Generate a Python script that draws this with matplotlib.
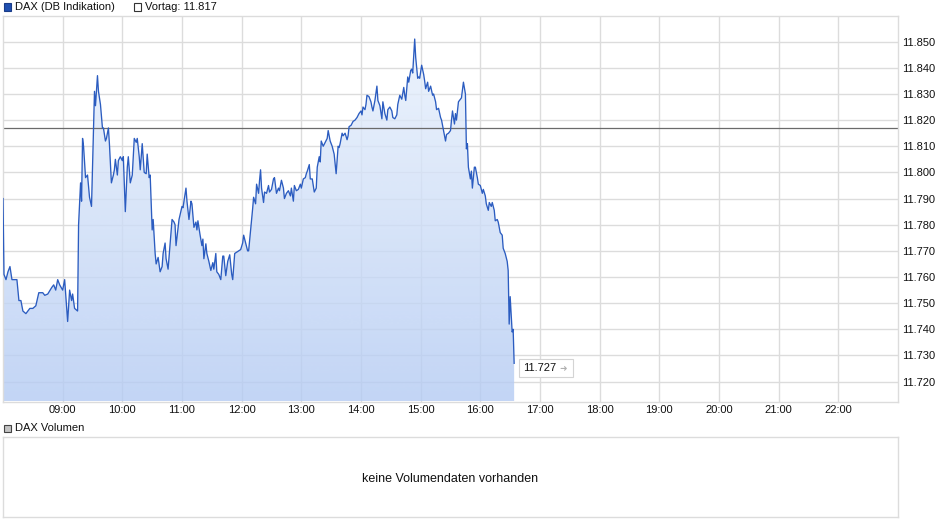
import numpy as np
import matplotlib
matplotlib.use("Agg")
import matplotlib.pyplot as plt
from matplotlib.patches import Rectangle, Polygon

plt.rcParams['font.family'] = ['Liberation Sans', 'DejaVu Sans']

# ---------------- data ----------------
times = [
    "08:00", "08:01", "08:03", "08:05", "08:07", "08:09", "08:12", "08:14", "08:16", "08:18",
    "08:20", "08:23", "08:27", "08:30", "08:33", "08:36", "08:40", "08:42", "08:45", "08:49",
    "08:51", "08:53", "08:55", "08:57",
    "09:00", "09:02", "09:05", "09:07", "09:09", "09:10", "09:12", "09:15", "09:16", "09:18",
    "09:19", "09:20", "09:21", "09:23", "09:25", "09:27", "09:29", "09:31", "09:32", "09:33",
    "09:35", "09:36", "09:38", "09:40", "09:41", "09:43", "09:44", "09:46", "09:47", "09:49",
    "09:51", "09:52", "09:53", "09:55", "09:56", "09:58",
    "10:00", "10:01", "10:03", "10:05", "10:06", "10:08", "10:10", "10:12", "10:14", "10:15",
    "10:17", "10:18", "10:20", "10:22", "10:24", "10:25", "10:27", "10:28", "10:30", "10:31",
    "10:33", "10:34", "10:36", "10:38", "10:40", "10:41", "10:43", "10:44", "10:46", "10:48",
    "10:50", "10:52", "10:53", "10:54", "10:57",
    "11:00", "11:01", "11:04", "11:05", "11:07", "11:09", "11:10", "11:12", "11:14", "11:15",
    "11:16", "11:18", "11:20", "11:21", "11:22", "11:24", "11:25", "11:27", "11:29", "11:31",
    "11:32", "11:34", "11:35", "11:37", "11:39", "11:41", "11:42", "11:44", "11:46", "11:48",
    "11:50", "11:51", "11:53", "11:55", "11:57", "11:59",
    "12:01", "12:02", "12:04", "12:06", "12:07", "12:09", "12:11", "12:12", "12:14", "12:15",
    "12:17", "12:18", "12:19", "12:20", "12:22", "12:23", "12:25", "12:27", "12:28", "12:30",
    "12:32", "12:33", "12:35", "12:37", "12:38", "12:40", "12:42", "12:43", "12:45", "12:47",
    "12:49", "12:50", "12:52", "12:53", "12:55", "12:57", "12:59",
    "13:00", "13:02", "13:04", "13:05", "13:06", "13:08", "13:09", "13:11", "13:13", "13:15",
    "13:16", "13:18", "13:19", "13:20", "13:22", "13:24", "13:26", "13:27", "13:29", "13:31",
    "13:33", "13:35", "13:37", "13:38", "13:39", "13:41", "13:42", "13:44", "13:46", "13:47",
    "13:48", "13:50", "13:52", "13:54", "13:56", "13:58",
    "14:00", "14:01", "14:02", "14:04", "14:05", "14:06", "14:08", "14:10", "14:11", "14:12",
    "14:14", "14:16", "14:17", "14:19", "14:21", "14:22", "14:24", "14:26", "14:27", "14:29",
    "14:31", "14:32", "14:34", "14:36", "14:37", "14:39", "14:41", "14:43", "14:44", "14:45",
    "14:47", "14:48", "14:50", "14:51", "14:52", "14:54", "14:55", "14:57", "14:58", "14:59",
    "15:01", "15:03", "15:04", "15:05", "15:07", "15:08", "15:10", "15:12", "15:13", "15:15",
    "15:16", "15:18", "15:20", "15:21", "15:23", "15:25", "15:26", "15:28", "15:30", "15:31",
    "15:32", "15:34", "15:35", "15:36", "15:38", "15:40", "15:41", "15:43", "15:45", "15:46",
    "15:47", "15:48", "15:50", "15:51", "15:52", "15:54", "15:55", "15:57", "15:58",
    "16:00", "16:02", "16:03", "16:05", "16:06", "16:08", "16:09", "16:11", "16:12", "16:14",
    "16:15", "16:17", "16:18", "16:20", "16:22", "16:23", "16:25", "16:27", "16:28", "16:29",
    "16:30", "16:32", "16:33", "16:34",
]

values = [
    11.790, 11.761, 11.759, 11.762, 11.764, 11.759, 11.759, 11.759, 11.751, 11.751,
    11.747, 11.746, 11.748, 11.748, 11.749, 11.754, 11.754, 11.753, 11.7535, 11.756,
    11.757, 11.755, 11.759, 11.757,
    11.755, 11.759, 11.743, 11.755, 11.751, 11.7535, 11.748, 11.747, 11.780, 11.796,
    11.789, 11.813, 11.810, 11.798, 11.799, 11.7905, 11.787, 11.817, 11.831, 11.8255,
    11.837, 11.831, 11.826, 11.817, 11.817, 11.812, 11.813, 11.817, 11.811, 11.796,
    11.799, 11.801, 11.805, 11.799, 11.8045, 11.806,
    11.8045, 11.806, 11.785, 11.802, 11.806, 11.796, 11.799, 11.813, 11.8115, 11.813,
    11.806, 11.801, 11.811, 11.800, 11.7995, 11.807, 11.798, 11.799, 11.778, 11.782,
    11.769, 11.765, 11.7675, 11.762, 11.764, 11.769, 11.773, 11.767, 11.763, 11.7725,
    11.782, 11.781, 11.780, 11.772, 11.782,
    11.787, 11.7865, 11.794, 11.789, 11.782, 11.789, 11.788, 11.779, 11.781, 11.778,
    11.7815, 11.7765, 11.772, 11.7745, 11.767, 11.7727, 11.769, 11.766, 11.7625, 11.7655,
    11.763, 11.769, 11.762, 11.761, 11.759, 11.768, 11.768, 11.7605, 11.766, 11.7685,
    11.761, 11.759, 11.769, 11.7695, 11.770, 11.7705,
    11.773, 11.776, 11.773, 11.770, 11.770, 11.778, 11.786, 11.7905, 11.788, 11.7955,
    11.792, 11.797, 11.801, 11.794, 11.7885, 11.7925, 11.792, 11.795, 11.7925, 11.7935,
    11.7975, 11.798, 11.792, 11.794, 11.793, 11.797, 11.794, 11.790, 11.792, 11.793,
    11.791, 11.794, 11.789, 11.795, 11.793, 11.7935, 11.7955,
    11.794, 11.7975, 11.798, 11.7995, 11.8005, 11.803, 11.7975, 11.7975, 11.7925, 11.794,
    11.802, 11.806, 11.804, 11.812, 11.810, 11.8115, 11.813, 11.816, 11.812, 11.810,
    11.807, 11.7995, 11.810, 11.8095, 11.811, 11.815, 11.814, 11.815, 11.8125, 11.814,
    11.8175, 11.818, 11.8195, 11.820, 11.821, 11.8225,
    11.8235, 11.822, 11.825, 11.824, 11.826, 11.8295, 11.829, 11.827, 11.825, 11.8235,
    11.8275, 11.833, 11.8275, 11.8255, 11.8205, 11.827, 11.8225, 11.820, 11.824, 11.825,
    11.8235, 11.821, 11.8205, 11.822, 11.826, 11.8295, 11.828, 11.8325, 11.8295, 11.8275,
    11.8365, 11.8345, 11.839, 11.8395, 11.838, 11.851, 11.844, 11.836, 11.8365, 11.836,
    11.841, 11.8375, 11.835, 11.832, 11.8345, 11.831, 11.833, 11.8295, 11.830, 11.827,
    11.824, 11.8245, 11.821, 11.820, 11.816, 11.812, 11.8145, 11.815, 11.816, 11.820,
    11.8235, 11.8185, 11.8225, 11.820, 11.827, 11.828, 11.8285, 11.8345, 11.830, 11.809,
    11.811, 11.802, 11.7975, 11.8005, 11.794, 11.802, 11.802, 11.798, 11.7955,
    11.795, 11.792, 11.7935, 11.791, 11.788, 11.7855, 11.7885, 11.787, 11.7885, 11.7855,
    11.7815, 11.782, 11.781, 11.777, 11.776, 11.771, 11.769, 11.766, 11.7625, 11.742,
    11.7525, 11.739, 11.740, 11.727,
]

prev_close = 11.817
last_value = 11.727
series_label = "DAX (DB Indikation)"
prev_label = "Vortag: 11.817"
volume_label = "DAX Volumen"
volume_note = "keine Volumendaten vorhanden"
hour_labels = ["09:00", "10:00", "11:00", "12:00", "13:00", "14:00", "15:00",
               "16:00", "17:00", "18:00", "19:00", "20:00", "21:00", "22:00"]
y_ticks = [11.72, 11.73, 11.74, 11.75, 11.76, 11.77, 11.78,
           11.79, 11.80, 11.81, 11.82, 11.83, 11.84, 11.85]


def to_min(s):
    h, m = s.split(":")
    return (int(h) - 8) * 60 + int(m)


x = np.array([to_min(t) for t in times], dtype=float)
y = np.array(values)
hour_pos = [to_min(h) for h in hour_labels]

# ---------------- figure ----------------
W, H = 940, 526
fig = plt.figure(figsize=(W / 100, H / 100), dpi=100)
fig.patch.set_facecolor("white")

L, R, T, B = 3, 898, 15.5, 401.5
ax = fig.add_axes([L / W, 1 - B / H, (R - L) / W, (B - T) / H])
YMIN, YMAX = 11.7124, 11.8600
XMIN, XMAX = 0, 900

grid_c = "#dcdcdc"
ax.set_axisbelow(True)
ax.grid(True, color=grid_c, lw=1.0, zorder=0)

# gradient fill under curve
n = 256
top_c = np.array([236.0, 243.5, 252.5]) / 255
bot_c = np.array([180.0, 203.0, 243.0]) / 255
tt = np.linspace(0, 1, n)[:, None]
rgb = top_c * (1 - tt) + bot_c * tt
grad = np.concatenate([rgb, np.full((n, 1), 0.8)], axis=1)[:, None, :]
im = ax.imshow(grad, extent=[x[0], x[-1], YMIN, YMAX], aspect="auto",
               origin="upper", zorder=1, interpolation="bilinear")
verts = [(x[0], YMIN)] + list(zip(x, y)) + [(x[-1], YMIN)]
clip = Polygon(verts, closed=True, transform=ax.transData, facecolor="none", edgecolor="none")
im.set_clip_path(clip)

ax.plot(x, y, color="#2b5cc0", lw=0.95, zorder=3, solid_joinstyle="round")
ax.axhline(prev_close, color="#6a6a6a", lw=0.9, zorder=2)

ax.set_xlim(XMIN, XMAX)
ax.set_ylim(YMIN, YMAX)
ax.set_xticks(hour_pos)
ax.set_xticklabels(hour_labels)
ax.set_yticks(y_ticks)
ax.set_yticklabels([f"{v:.3f}" for v in y_ticks])
ax.yaxis.tick_right()
ax.tick_params(axis="both", length=0, labelsize=8, colors="#111111")
ax.tick_params(axis="y", pad=3.0)
ax.tick_params(axis="x", pad=2.5)
for sp in ax.spines.values():
    sp.set_color(grid_c)
    sp.set_linewidth(1.0)

# last value label: box anchored at the last data point (pixel offsets)
px, py_up = ax.transData.transform((x[-1], last_value))
py = H - py_up  # pixels from top
bx0, bx1 = px + 4.5, px + 58.5
by0, by1 = py - 4.5, py + 14.0
fig.patches.append(Rectangle((bx0 / W, 1 - by1 / H), (bx1 - bx0) / W, (by1 - by0) / H,
                             transform=fig.transFigure, facecolor="white",
                             edgecolor="#d4d4d4", lw=0.8, zorder=5))
fig.text((px + 9.0) / W, 1 - (py + 5.0) / H, f"{last_value:.3f}", fontsize=8,
         ha="left", va="center", color="#111111", zorder=6)
fig.text((px + 45.0) / W, 1 - (py + 5.0) / H, "\u279C", fontsize=6.5,
         ha="left", va="center", color="#b0b0b0", zorder=6, family="DejaVu Sans")

# legend header
fig.patches.append(Rectangle((3.5 / W, 1 - 10.5 / H), 7.5 / W, 7.5 / H, transform=fig.transFigure,
                             facecolor="#1f4fb0", edgecolor="#1a3c88", lw=0.8))
fig.text(15 / W, 1 - 6.5 / H, series_label, fontsize=8, va="center", ha="left", color="#111111")
fig.patches.append(Rectangle((133.5 / W, 1 - 10.5 / H), 7.5 / W, 7.5 / H, transform=fig.transFigure,
                             facecolor="white", edgecolor="#333333", lw=0.8))
fig.text(145 / W, 1 - 6.5 / H, prev_label, fontsize=8, va="center", ha="left", color="#111111")

# volume panel
fig.patches.append(Rectangle((3.5 / W, 1 - 432 / H), 7.5 / W, 7.5 / H, transform=fig.transFigure,
                             facecolor="#c4c4c4", edgecolor="#444444", lw=0.8))
fig.text(15 / W, 1 - 428 / H, volume_label, fontsize=8, va="center", ha="left", color="#111111")
vax = fig.add_axes([L / W, 1 - 517 / H, (R - L) / W, (517 - 437) / H])
vax.set_xticks([])
vax.set_yticks([])
for sp in vax.spines.values():
    sp.set_color(grid_c)
    sp.set_linewidth(1.0)
vax.text(0.5, 0.48, volume_note, transform=vax.transAxes, ha="center", va="center",
         fontsize=9, color="#111111")

fig.savefig("out.png", dpi=100, facecolor="white")
